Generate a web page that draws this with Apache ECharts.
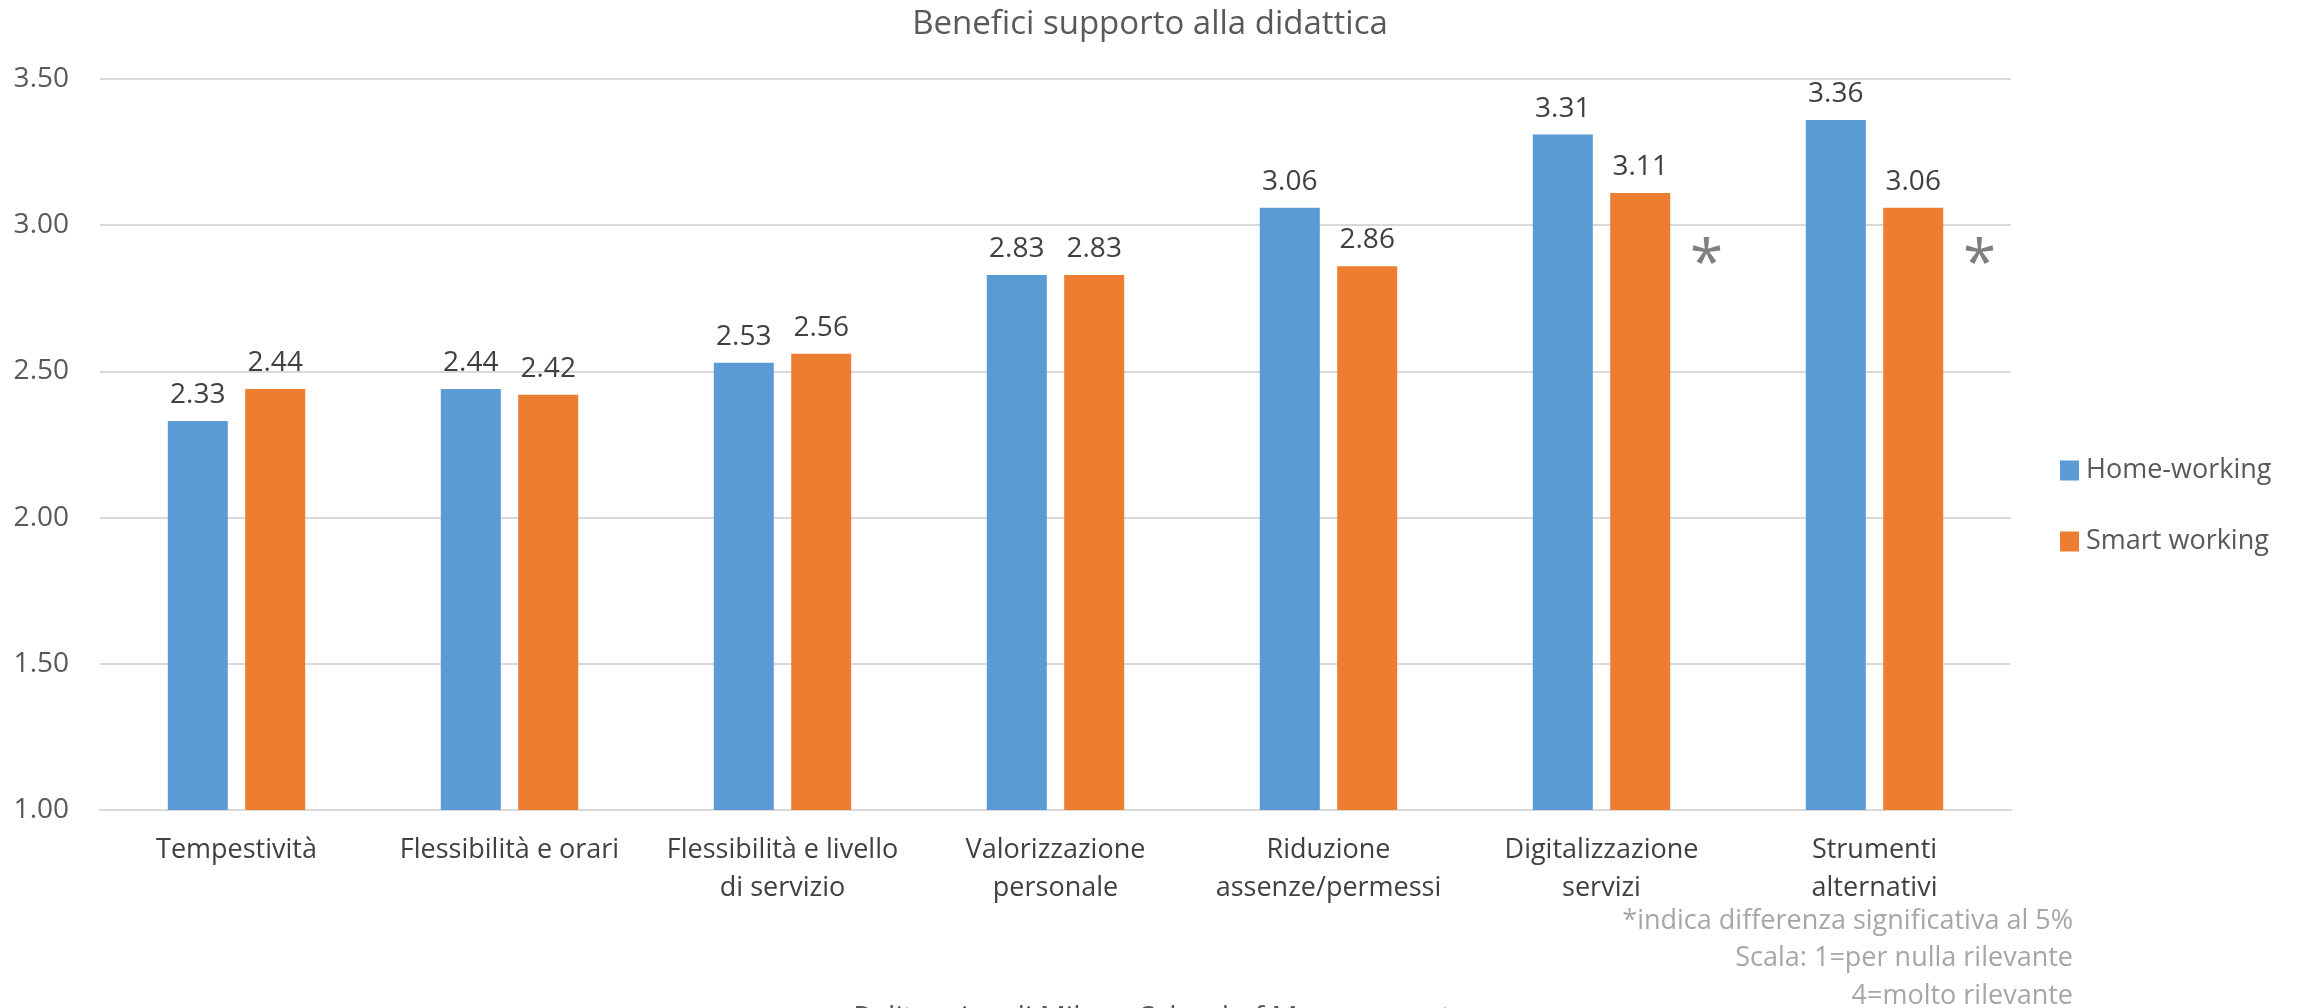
<!DOCTYPE html>
<html>
<head>
<meta charset="utf-8">
<title>Benefici supporto alla didattica</title>
<script src="https://cdn.jsdelivr.net/npm/echarts@6/dist/echarts.min.js"></script>
<style>
  html, body {
    margin: 0;
    padding: 0;
    background: #ffffff;
  }
  #main {
    width: 2300px;
    height: 1008px;
  }
</style>
</head>
<body>
<div id="main"></div>
<script>
  // categorie e valori
  var categories = [
    'Tempestività',
    'Flessibilità e orari',
    'Flessibilità e livello\ndi servizio',
    'Valorizzazione\npersonale',
    'Riduzione\nassenze/permessi',
    'Digitalizzazione\nservizi',
    'Strumenti\nalternativi'
  ];
  var homeWorking = [2.33, 2.44, 2.53, 2.83, 3.06, 3.31, 3.36];
  var smartWorking = [2.44, 2.42, 2.56, 2.83, 2.86, 3.11, 3.06];
  // categorie con differenza significativa (asterisco)
  var significant = [5, 6];
  var yTicks = [1.0, 1.5, 2.0, 2.5, 3.0, 3.5];
  // note a piè di grafico
  var notes = [
    '*indica differenza significativa al 5%',
    'Scala: 1=per nulla rilevante',
    '4=molto rilevante'
  ];

  var font = '"Open Sans", "DejaVu Sans", sans-serif';

  var option = {
    animation: false,
    backgroundColor: '#ffffff',
    title: {
      text: 'Benefici supporto alla didattica',
      left: 'center',
      top: 3,
      textStyle: {
        fontFamily: font,
        fontSize: 33,
        fontWeight: 'normal',
        color: '#595959'
      }
    },
    legend: {
      orient: 'vertical',
      left: 2055,
      top: 452,
      itemWidth: 19,
      itemHeight: 20,
      itemGap: 44,
      icon: 'rect',
      textStyle: {
        fontFamily: font,
        fontSize: 27,
        color: '#595959',
        padding: [0, 0, 0, 2]
      },
      data: ['Home-working', 'Smart working']
    },
    grid: {
      left: 100,
      right: 289,
      top: 79,
      bottom: 198
    },
    xAxis: {
      type: 'category',
      data: categories,
      axisTick: { show: false },
      axisLine: { lineStyle: { color: '#d9d9d9', width: 2 } },
      axisLabel: {
        fontFamily: font,
        fontSize: 27,
        color: '#404040',
        margin: 21,
        lineHeight: 38,
        interval: 0
      }
    },
    yAxis: {
      type: 'value',
      min: yTicks[0],
      max: yTicks[yTicks.length - 1],
      interval: 0.5,
      axisLine: { show: false },
      axisTick: { show: false },
      splitLine: { lineStyle: { color: '#d9d9d9', width: 2 } },
      axisLabel: {
        fontFamily: font,
        fontSize: 28,
        color: '#595959',
        margin: 31,
        formatter: function (v) { return v.toFixed(2); }
      }
    },
    series: [
      {
        name: 'Home-working',
        type: 'bar',
        data: homeWorking,
        barWidth: 60,
        barGap: '29%',
        itemStyle: { color: '#5b9bd5' },
        label: {
          show: true,
          position: 'top',
          distance: 12,
          fontFamily: font,
          fontSize: 28,
          color: '#404040',
          formatter: function (p) { return p.value.toFixed(2); }
        }
      },
      {
        name: 'Smart working',
        type: 'bar',
        data: smartWorking,
        barWidth: 60,
        itemStyle: { color: '#ed7d31' },
        label: {
          show: true,
          position: 'top',
          distance: 12,
          fontFamily: font,
          fontSize: 28,
          color: '#404040',
          formatter: function (p) { return p.value.toFixed(2); }
        }
      }
    ],
    graphic: []
  };

  // note in basso a destra, allineate a destra
  notes.forEach(function (t, i) {
    option.graphic.push({
      type: 'text',
      x: 2073,
      y: 921 + i * 37.5,
      style: {
        text: t,
        font: '27px ' + font,
        fill: '#a6a6a6',
        align: 'right',
        verticalAlign: 'middle'
      }
    });
  });
  // fonte (tagliata in basso)
  option.graphic.push({
    type: 'text',
    x: 1152,
    y: 1004,
    style: {
      text: 'Politecnico di Milano School of Management',
      font: '29px ' + font,
      fill: '#595959',
      align: 'center',
      verticalAlign: 'top'
    }
  });

  var chart = echarts.init(document.getElementById('main'));
  chart.setOption(option);

  // asterischi accanto alle barre con differenza significativa
  var stars = significant.map(function (i) {
    var pt = chart.convertToPixel({ gridIndex: 0 }, [i, 2.86]);
    return {
      type: 'text',
      x: pt[0] + 105,
      y: pt[1],
      style: {
        text: '*',
        font: '60px ' + font,
        fill: '#7f7f7f',
        align: 'center',
        verticalAlign: 'middle'
      }
    };
  });
  chart.setOption({ graphic: option.graphic.concat(stars) });
</script>
</body>
</html>
